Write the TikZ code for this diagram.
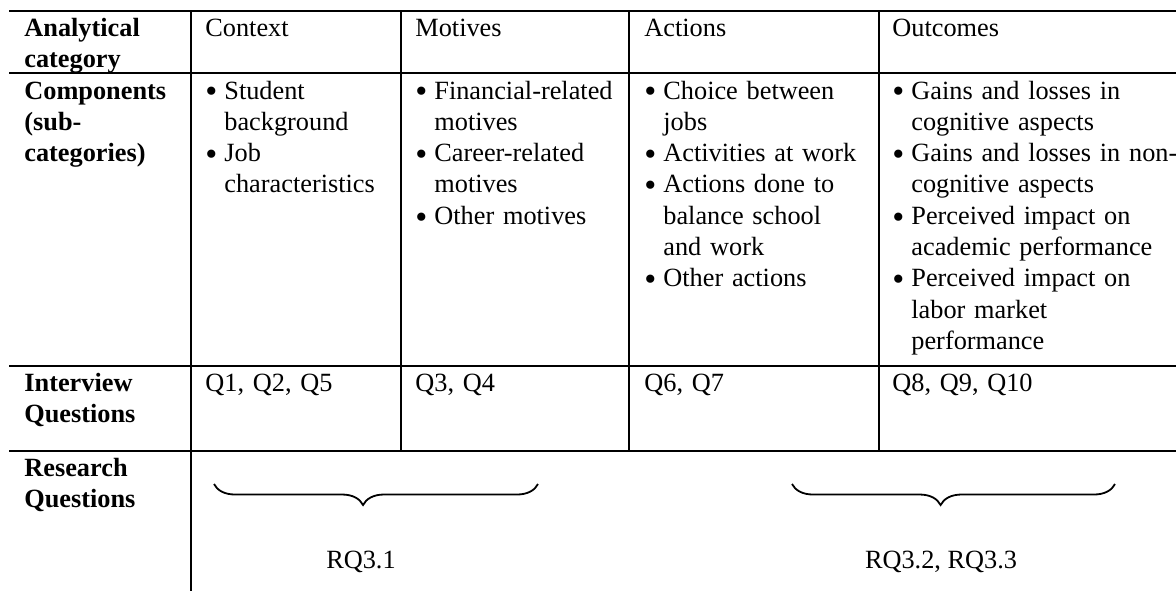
\documentclass[tikz,border=0pt]{standalone}
\usepackage{graphicx}
\usepackage{fontspec}
\setmainfont{Liberation Serif}
\usetikzlibrary{decorations.pathreplacing}

\newcommand{\bitem}[1]{\hangindent=9.5pt\hangafter=1%
  \makebox[9.5pt][l]{\raisebox{-0.15em}{\scalebox{1.3}{\textbullet}}}#1\par}

\begin{document}
\begin{tikzpicture}[x=0.5pt, y=-0.5pt,
    font=\fontsize{13.15}{15.65}\selectfont,
    rule/.style={line width=1pt},
    cell/.style={anchor=base west, inner sep=0pt, align=left, text width=#1},
    head/.style={cell=80pt, font=\fontsize{13.15}{15.65}\selectfont\bfseries},
    rq/.style={anchor=base, inner sep=0pt},
    rqbrace/.style={decorate, line width=0.9pt,
      decoration={brace, mirror, amplitude=10.5pt, aspect=0.46}}]
    \useasboundingbox (0,0) rectangle (1176,591);

    % table rules
    \draw[rule] (9,11) -- (1176,11) (9,73) -- (1176,73)
      (9,366) -- (1176,366) (9,451) -- (1176,451);
    \draw[rule] (191,11) -- (191,591) (401,11) -- (401,451)
      (629,11) -- (629,451) (879,11) -- (879,451);

    % header row
    \node[head] (hcat) at (24,36.5) {Analytical\\category};
    \node[cell=92pt] (hctx) at (205,36.5) {Context};
    \node[cell=100pt] (hmot) at (415,36.5) {Motives};
    \node[cell=112pt] (hact) at (644,36.5) {Actions};
    \node[cell=140pt] (hout) at (892,36.5) {Outcomes};

    % components
    \node[head] (ccat) at (24,99) {Components\\(sub-\\categories)};
    \node[cell=92pt] (cctx) at (205,99)
      {\bitem{Student\newline background}\bitem{Job\newline characteristics}};
    \node[cell=100pt] (cmot) at (415,99)
      {\bitem{Financial-related\newline motives}\bitem{Career-related\newline motives}
       \bitem{Other motives}};
    \node[cell=112pt] (cact) at (644,99)
      {\bitem{Choice between\newline jobs}\bitem{Activities at work}
       \bitem{Actions done to\newline balance school\newline and work}\bitem{Other actions}};
    \node[cell=150pt] (cout) at (892,99)
      {\bitem{Gains and losses in\newline cognitive aspects}
       \bitem{Gains and losses in non-\newline cognitive aspects}
       \bitem{Perceived impact on\newline academic performance}
       \bitem{Perceived impact on\newline labor market\newline performance}};

    % interview questions
    \node[head] (icat) at (24,391) {Interview\\Questions};
    \node[cell=92pt] (ictx) at (205,391) {Q1, Q2, Q5};
    \node[cell=100pt] (imot) at (415,391) {Q3, Q4};
    \node[cell=112pt] (iact) at (644,391) {Q6, Q7};
    \node[cell=140pt] (iout) at (892,391) {Q8, Q9, Q10};

    % research questions
    \node[head] (rcat) at (24,476) {Research\\Questions};
    \draw[rqbrace] (214,484) -- (538,484);
    \draw[rqbrace] (792,484) -- (1115,484);
    \node[rq] (rqa) at (361,568) {RQ3.1};
    \node[rq] (rqb) at (941,568) {RQ3.2, RQ3.3};
\end{tikzpicture}
\end{document}
